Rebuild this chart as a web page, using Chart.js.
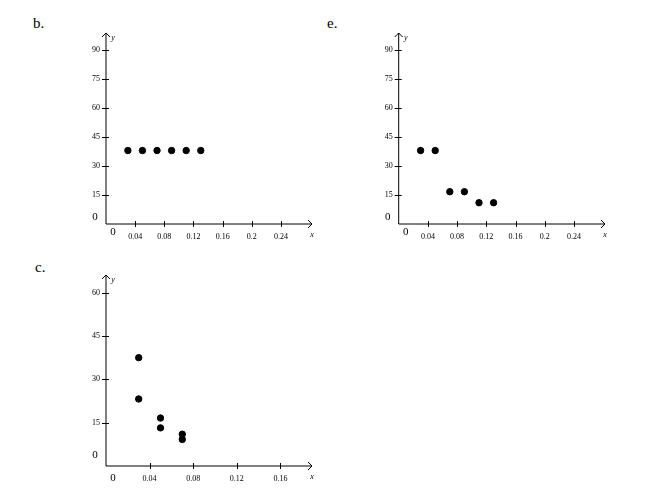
<!DOCTYPE html>
<html>
<head>
<meta charset="utf-8">
<script src="https://cdn.jsdelivr.net/npm/chart.js@4.4.0/dist/chart.umd.min.js"></script>
<style>
  body { margin: 0; background: #fff; width: 653px; height: 497px; position: relative; overflow: hidden; font-family: "Liberation Serif", "Times New Roman", serif; }
  .panel { position: absolute; }
  .panel canvas { display: block; }
  .tag { position: absolute; font-family: "Liberation Serif", serif; font-size: 15px; line-height: 15px; color: #000; }
</style>
</head>
<body>
<div class="tag" style="left:33px;top:16px">b.</div>
<div class="tag" style="left:327px;top:16px">e.</div>
<div class="tag" style="left:35px;top:260px">c.</div>

<div class="panel" style="left:0;top:0"><canvas id="chartB" width="326" height="248"></canvas></div>
<div class="panel" style="left:326px;top:0"><canvas id="chartE" width="327" height="248"></canvas></div>
<div class="panel" style="left:0;top:248px"><canvas id="chartC" width="326" height="249"></canvas></div>

<script>
// values
const xB = [0.03, 0.05, 0.07, 0.09, 0.11, 0.13];
const yB = [38, 38, 38, 38, 38, 38];

const xE = [0.03, 0.05, 0.07, 0.09, 0.11, 0.13];
const yE = [38, 38, 16.7, 16.7, 11, 11];

const xC = [0.03, 0.03, 0.05, 0.05, 0.07, 0.07];
const yC = [37.5, 23.2, 16.6, 13.2, 11, 9.2];

// tick labels
const xTicksWide = [0.04, 0.08, 0.12, 0.16, 0.2, 0.24];
const yTicksTall = [15, 30, 45, 60, 75, 90];
const xTicksNarrow = [0.04, 0.08, 0.12, 0.16];
const yTicksShort = [15, 30, 45, 60];

const SERIF = '"Liberation Serif", "Times New Roman", serif';

// axes with arrows, crossing tick marks and the odd placed zeros
const arrowAxes = {
  id: 'arrowAxes',
  beforeDatasetsDraw(chart, args, opts) {
    const {ctx, chartArea: a, scales: {x, y}} = chart;
    const x0 = x.getPixelForValue(0);
    const y0 = y.getPixelForValue(0);
    ctx.save();
    ctx.strokeStyle = '#000';
    ctx.lineWidth = 1;
    ctx.beginPath();
    ctx.moveTo(x0, y0); ctx.lineTo(a.right, y0);
    ctx.moveTo(x0, y0); ctx.lineTo(x0, a.top);
    // arrow heads
    ctx.moveTo(a.right - 4, y0 - 4); ctx.lineTo(a.right, y0); ctx.lineTo(a.right - 4, y0 + 4);
    ctx.moveTo(x0 - 4, a.top + 4); ctx.lineTo(x0, a.top); ctx.lineTo(x0 + 4, a.top + 4);
    x.ticks.forEach(t => {
      const p = Math.round(x.getPixelForValue(t.value)) + 0.5;
      ctx.moveTo(p, y0 - 3); ctx.lineTo(p, y0 + 3);
    });
    y.ticks.forEach(t => {
      const p = Math.round(y.getPixelForValue(t.value)) + 0.5;
      ctx.moveTo(x0 - 4, p); ctx.lineTo(x0 + 3, p);
    });
    ctx.stroke();

    ctx.fillStyle = '#000';
    ctx.font = '8px ' + SERIF;
    ctx.textAlign = 'center';
    ctx.textBaseline = 'middle';
    x.ticks.forEach(t => ctx.fillText(String(t.value), x.getPixelForValue(t.value), y0 + 13));
    ctx.textAlign = 'right';
    y.ticks.forEach(t => ctx.fillText(String(t.value), x0 - 6, y.getPixelForValue(t.value)));

    ctx.font = '11px ' + SERIF;
    ctx.textAlign = 'center';
    ctx.fillText('0', x0 - 11, y0 - opts.zeroUp);
    ctx.fillText('0', x0 + 7, y0 + opts.zeroDown);

    ctx.font = 'italic 8px ' + SERIF;
    ctx.fillText('x', a.right, y0 + 11);
    ctx.fillText('y', x0 + 7, a.top + 5);
    ctx.restore();
  }
};

function makeChart(id, xs, ys, xTicks, yTicks, xMax, yMax, pad, zeros) {
  const pts = xs.map((v, i) => ({x: v, y: ys[i]}));
  return new Chart(document.getElementById(id), {
    type: 'scatter',
    data: {
      datasets: [{
        data: pts,
        backgroundColor: '#000',
        borderColor: '#000',
        pointRadius: 3.2,
        pointHoverRadius: 3.2
      }]
    },
    options: {
      responsive: false,
      animation: false,
      events: [],
      layout: {padding: pad},
      scales: {
        x: {
          type: 'linear', min: 0, max: xMax, display: false,
          afterBuildTicks: s => { s.ticks = xTicks.map(v => ({value: v})); }
        },
        y: {
          type: 'linear', min: 0, max: yMax, display: false,
          afterBuildTicks: s => { s.ticks = yTicks.map(v => ({value: v})); }
        }
      },
      plugins: {
        legend: {display: false},
        tooltip: {enabled: false},
        arrowAxes: zeros
      }
    },
    plugins: [arrowAxes]
  });
}

makeChart('chartB', xB, yB, xTicksWide, yTicksTall, 0.2826, 98.8,
  {left: 106, top: 33, right: 14, bottom: 24}, {zeroUp: 7, zeroDown: 8});
makeChart('chartE', xE, yE, xTicksWide, yTicksTall, 0.2826, 98.8,
  {left: 72.7, top: 33, right: 48, bottom: 24}, {zeroUp: 7, zeroDown: 8});
makeChart('chartC', xC, yC, xTicksNarrow, yTicksShort, 0.189, 66.1,
  {left: 106, top: 27, right: 14, bottom: 31}, {zeroUp: 11, zeroDown: 12});
</script>
</body>
</html>
